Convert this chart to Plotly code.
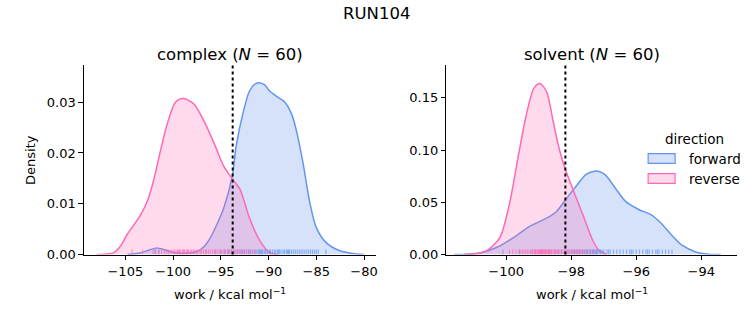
import plotly.graph_objects as go

# ---------------- data ----------------
cx_fwd_x = [-104.8, -103.5, -102.5, -101.7, -100.8, -99.9, -98.5, -97.5, -96.8, -96.1, -95.4, -94.7,
            -93.8, -93.4, -92.7, -92.0, -91.4, -90.9, -90.4, -89.9, -89.2, -88.3, -87.6, -87.1,
            -86.4, -85.7, -85.0, -84.0, -82.6, -80.8, -80.0]
cx_fwd_d = [0.0, 0.0003, 0.0009, 0.0013, 0.0009, 0.0004, 0.0003, 0.0006, 0.0015, 0.0033, 0.006, 0.0091,
            0.0155, 0.0213, 0.0277, 0.0322, 0.0336, 0.0338, 0.0334, 0.0322, 0.0312, 0.0300, 0.0277, 0.0245,
            0.0181, 0.0104, 0.0053, 0.0024, 0.0008, 0.0001, 0.0]
cx_rev_x = [-108.0, -107.0, -106.2, -105.5, -104.8, -103.4, -102.6, -102.0, -101.3, -100.6, -99.75,
            -98.9, -97.8, -96.8, -95.7, -94.7, -93.8, -93.0, -92.5, -92.0, -90.9, -89.9, -89.0]
cx_rev_d = [0.0, 0.0001, 0.0004, 0.0017, 0.004, 0.0078, 0.011, 0.0149, 0.0206, 0.0258, 0.0300,
            0.0307, 0.0296, 0.0264, 0.0219, 0.0174, 0.0149, 0.0129, 0.0102, 0.0072, 0.0027, 0.0004, 0.0]

sv_fwd_x = [-101.6, -101.2, -100.8, -100.3, -99.79, -99.28, -98.76, -98.46, -98.15, -97.84, -97.54,
            -97.28, -97.1, -96.93, -96.63, -96.32, -95.91, -95.55, -95.25, -94.94, -94.58, -94.17,
            -93.76, -93.4]
sv_fwd_d = [0.0, 0.0004, 0.0016, 0.0068, 0.016, 0.027, 0.0348, 0.041, 0.0534, 0.0659, 0.0767,
            0.0798, 0.079, 0.0755, 0.063, 0.0506, 0.0429, 0.0382, 0.0304, 0.0196, 0.0087, 0.0025,
            0.0003, 0.0]
sv_rev_x = [-101.3, -100.9, -100.6, -100.2, -99.89, -99.63, -99.38, -99.15, -98.97, -98.76, -98.56,
            -98.36, -98.18, -97.95, -97.64, -97.33, -97.14, -96.9]
sv_rev_d = [0.0, 0.001, 0.0037, 0.016, 0.050, 0.094, 0.134, 0.159, 0.1637, 0.156, 0.128,
            0.100, 0.0814, 0.0627, 0.0379, 0.013, 0.004, 0.0]

# rug samples (work values, N = 60 each)
cx_fwd_rug = [-101.9, -101.5, -95.6, -95.0, -94.6, -94.2, -93.9, -93.6, -93.3, -93.0, -92.8, -92.5,
              -92.3, -92.1, -91.9, -91.7, -91.5, -91.3, -91.1, -90.9, -90.8, -90.6, -90.4, -90.3,
              -90.1, -89.9, -89.8, -89.6, -89.4, -89.3, -89.1, -88.9, -88.8, -88.6, -88.4, -88.3,
              -88.1, -87.9, -87.8, -87.6, -87.4, -87.2, -87.0, -86.8, -86.6, -86.4, -86.2, -86.0,
              -85.8, -85.6, -85.4, -85.2, -85.0, -84.8, -84.0, -90.7, -91.0, -89.0, -88.0, -92.7]
cx_rev_rug = [-104.3, -103.2, -102.1, -101.8, -101.5, -101.2, -100.9, -100.7, -100.5, -100.3, -100.1,
              -99.9, -99.8, -99.6, -99.5, -99.3, -99.2, -99.0, -98.9, -98.8, -98.6, -98.5, -98.4,
              -98.2, -98.1, -97.9, -97.8, -97.6, -97.5, -97.3, -97.1, -97.0, -96.8, -96.6, -96.5,
              -96.3, -96.1, -95.9, -95.7, -95.5, -95.3, -95.1, -94.9, -94.7, -94.5, -94.3, -94.1,
              -93.9, -93.7, -93.5, -93.3, -93.1, -92.9, -92.7, -92.5, -92.3, -92.0, -91.7, -91.4, -99.4]
sv_fwd_rug = [-100.1, -99.6, -99.2, -98.9, -98.7, -98.5, -98.4, -98.3, -98.2, -98.1, -98.0, -97.95,
              -97.9, -97.85, -97.8, -97.75, -97.7, -97.65, -97.6, -97.55, -97.5, -97.45, -97.4, -97.35,
              -97.3, -97.25, -97.2, -97.15, -97.1, -97.05, -97.0, -96.9, -96.8, -96.7, -96.6, -96.5,
              -96.4, -96.3, -96.2, -96.1, -96.0, -95.9, -95.8, -95.7, -95.6, -95.5, -95.4, -95.3,
              -95.2, -95.1, -95.0, -94.9, -97.52, -97.42, -97.32, -97.22, -96.85, -96.15, -95.65, -95.35]
sv_rev_rug = [-99.9, -99.8, -99.7, -99.6, -99.55, -99.5, -99.45, -99.4, -99.35, -99.3, -99.25, -99.2,
              -99.15, -99.1, -99.08, -99.05, -99.02, -99.0, -98.98, -98.95, -98.92, -98.9, -98.88, -98.85,
              -98.82, -98.8, -98.77, -98.74, -98.7, -98.67, -98.64, -98.6, -98.56, -98.52, -98.48, -98.44,
              -98.4, -98.35, -98.3, -98.25, -98.2, -98.15, -98.1, -98.05, -98.0, -97.95, -97.9, -97.85,
              -97.8, -97.75, -97.7, -97.65, -97.6, -97.5, -97.4, -97.3, -98.78, -98.93, -99.12, -98.62]

cx_vline = -93.76
sv_vline = -98.18

cx_xticks = [-105, -100, -95, -90, -85, -80]
cx_yticks = [0.00, 0.01, 0.02, 0.03]
sv_xticks = [-100, -98, -96, -94]
sv_yticks = [0.00, 0.05, 0.10, 0.15]

cx_xrange = [-109.34, -78.7]
cx_ymax = 0.03725
sv_xrange = [-101.84, -92.9]
sv_ymax = 0.181

titles = ["complex (<i>N</i> = 60)", "solvent (<i>N</i> = 60)"]
suptitle = "RUN104"
xlabel = "work / kcal mol<sup>−1</sup>"
ylabel = "Density"
legend_title = "direction"
directions = ["forward", "reverse"]

# ---------------- styling ----------------
FONT = "DejaVu Sans"
W, H = 753, 325
col_line = {"forward": "#6495ED", "reverse": "#FF69B4"}
col_fill = {"forward": "rgba(100,149,237,0.27)", "reverse": "rgba(255,105,180,0.25)"}
col_rug = {"forward": "rgba(100,149,237,0.7)", "reverse": "rgba(255,105,180,0.7)"}

# plot area in pixels
L1, R1 = 84, 377
L2, R2 = 447, 738
TOP, BOT = 67, 261
ydom = [1 - BOT / H, 1 - TOP / H]


def px(xp):
    return xp / W


def py(yp):
    return 1 - yp / H


fig = go.Figure()

panels = [
    dict(xa="x", ya="y", curves={"forward": (cx_fwd_x, cx_fwd_d), "reverse": (cx_rev_x, cx_rev_d)},
         rugs={"forward": cx_fwd_rug, "reverse": cx_rev_rug}, ymax=cx_ymax),
    dict(xa="x2", ya="y2", curves={"forward": (sv_fwd_x, sv_fwd_d), "reverse": (sv_rev_x, sv_rev_d)},
         rugs={"forward": sv_fwd_rug, "reverse": sv_rev_rug}, ymax=sv_ymax),
]

for i, p in enumerate(panels):
    for d in directions:
        xs, ds = p["curves"][d]
        fig.add_trace(go.Scatter(
            x=xs, y=ds, mode="lines", line=dict(color=col_line[d], width=1.5, shape="spline", smoothing=0.8),
            fill="tozeroy", fillcolor=col_fill[d], name=d, showlegend=False,
            xaxis=p["xa"], yaxis=p["ya"]))
    for d in directions:
        h = 0.027 * p["ymax"]
        rx, ry = [], []
        for v in p["rugs"][d]:
            rx += [v, v, None]
            ry += [0, h, None]
        fig.add_trace(go.Scatter(x=rx, y=ry, mode="lines", line=dict(color=col_rug[d], width=1.1),
                                 showlegend=False, hoverinfo="skip", xaxis=p["xa"], yaxis=p["ya"]))

axis_common = dict(showline=True, linecolor="black", linewidth=1.1, ticks="outside", ticklen=4.5,
                   tickwidth=1.1, tickcolor="black", showgrid=False, zeroline=False,
                   tickfont=dict(family=FONT, size=13, color="black"), fixedrange=True)

fig.update_layout(
    width=W, height=H, margin=dict(l=0, r=0, t=0, b=0),
    paper_bgcolor="white", plot_bgcolor="white",
    font=dict(family=FONT, size=13, color="black"),
    xaxis=dict(domain=[L1 / W, R1 / W], range=cx_xrange, tickvals=cx_xticks, anchor="y", **axis_common),
    yaxis=dict(domain=ydom, range=[0, cx_ymax], tickvals=cx_yticks, tickformat=".2f", anchor="x", **axis_common),
    xaxis2=dict(domain=[L2 / W, R2 / W], range=sv_xrange, tickvals=sv_xticks, anchor="y2", **axis_common),
    yaxis2=dict(domain=ydom, range=[0, sv_ymax], tickvals=sv_yticks, tickformat=".2f", anchor="x2", **axis_common),
    showlegend=False,
)

# vertical dotted lines
for xa, v in [("x", cx_vline), ("x2", sv_vline)]:
    fig.add_shape(type="line", xref=xa, yref=("y domain" if xa == "x" else "y2 domain"),
                  x0=v, x1=v, y0=0, y1=1, line=dict(color="black", width=2, dash="dot"))

ann = []
ann.append(dict(text=suptitle, x=0.5, y=py(14), xref="paper", yref="paper", showarrow=False,
                font=dict(family=FONT, size=16.5), xanchor="center", yanchor="middle"))
for t, (l, r) in zip(titles, [(L1, R1), (L2, R2)]):
    ann.append(dict(text=t, x=px((l + r) / 2), y=py(56), xref="paper", yref="paper", showarrow=False,
                    font=dict(family=FONT, size=16.5), xanchor="center", yanchor="middle"))
    ann.append(dict(text=xlabel, x=px((l + r) / 2), y=py(301), xref="paper", yref="paper", showarrow=False,
                    font=dict(family=FONT, size=13), xanchor="center", yanchor="middle"))
ann.append(dict(text=ylabel, x=px(31), y=py(164), xref="paper", yref="paper", showarrow=False,
                textangle=-90, font=dict(family=FONT, size=13), xanchor="center", yanchor="middle"))

# legend (drawn as patches + text, matplotlib style)
ann.append(dict(text=legend_title, x=px(695), y=py(142), xref="paper", yref="paper", showarrow=False,
                font=dict(family=FONT, size=13.5), xanchor="center", yanchor="middle"))
for k, d in enumerate(directions):
    yc = 162.5 + 20.5 * k
    fig.add_shape(type="rect", xref="paper", yref="paper", x0=px(649), x1=px(676),
                  y0=py(yc - 5), y1=py(yc + 5), fillcolor=col_fill[d],
                  line=dict(color=col_line[d], width=1.2))
    ann.append(dict(text=d, x=px(688), y=py(yc + 1), xref="paper", yref="paper", showarrow=False,
                    font=dict(family=FONT, size=13.5), xanchor="left", yanchor="middle"))
fig.update_layout(annotations=ann)

fig.write_html("out.html")
